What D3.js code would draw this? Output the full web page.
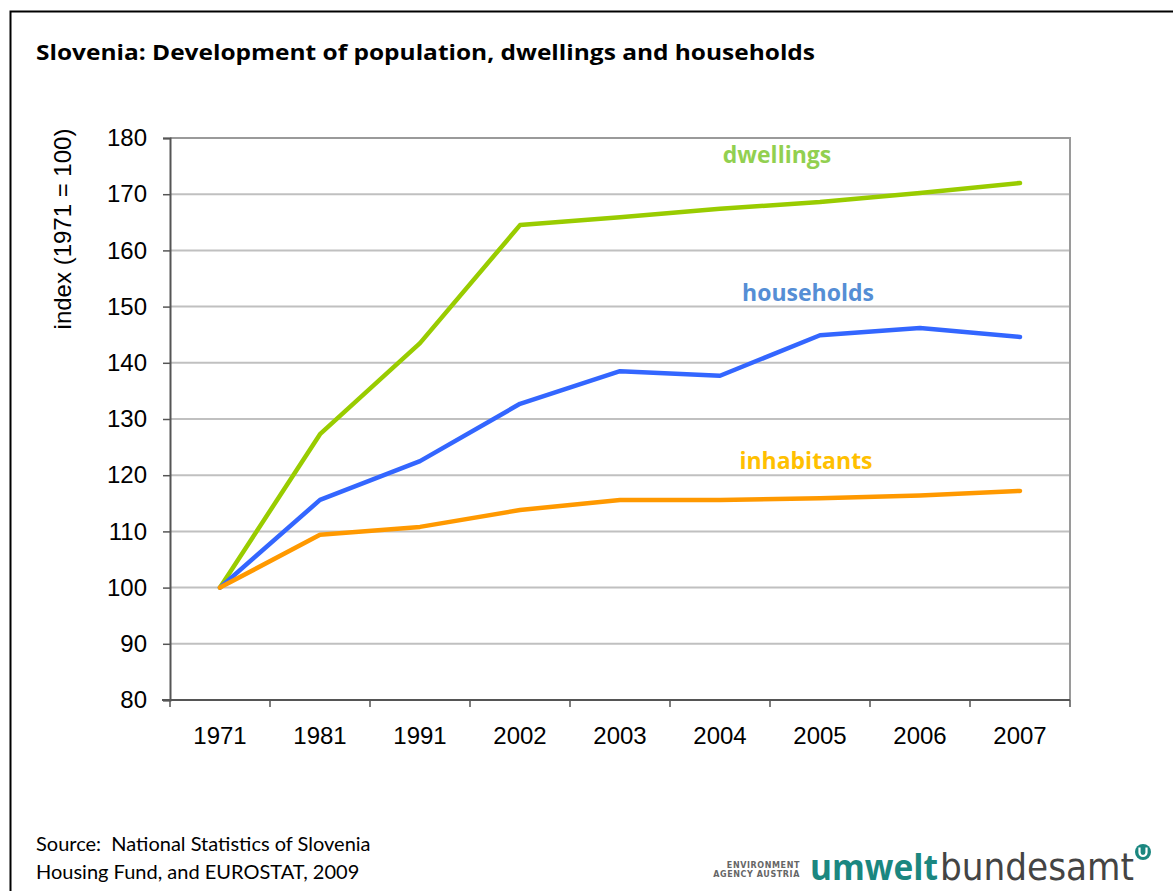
<!DOCTYPE html>
<html>
<head>
<meta charset="utf-8">
<script src="https://cdn.jsdelivr.net/npm/d3@7"></script>
<style>
  html, body { margin: 0; padding: 0; background: #fff; }
  svg { display: block; }
</style>
</head>
<body>
<svg id="chart" width="1173" height="891"></svg>
<script>
const years = ["1971", "1981", "1991", "2002", "2003", "2004", "2005", "2006", "2007"];
const dwellings = [100, 127.3, 143.5, 164.5, 165.9, 167.4, 168.6, 170.2, 172.0];
const households = [100, 115.6, 122.5, 132.7, 138.5, 137.7, 144.9, 146.2, 144.6];
const inhabitants = [100, 109.4, 110.8, 113.8, 115.6, 115.6, 115.9, 116.4, 117.2];
const yTicks = [80, 90, 100, 110, 120, 130, 140, 150, 160, 170, 180];

const seriesList = [
  { name: "dwellings", values: dwellings, color: "#99CC00", labelColor: "#92D050", labelX: 777, labelY: 163 },
  { name: "households", values: households, color: "#3366FF", labelColor: "#558ED5", labelX: 808, labelY: 301 },
  { name: "inhabitants", values: inhabitants, color: "#FF9900", labelColor: "#FFC000", labelX: 806, labelY: 469 }
];

const svg = d3.select("#chart");
const L = 170, R = 1070, T = 138, B = 700;

// outer frame
svg.append("rect").attr("x", 10.5).attr("y", 11.5).attr("width", 1200).attr("height", 1000)
  .attr("fill", "none").attr("stroke", "#000").attr("stroke-width", 2);

// title
svg.append("text").attr("x", 36).attr("y", 60)
  .attr("font-family", "'Open Sans', Lato, sans-serif").attr("font-weight", "bold")
  .attr("font-size", 21.5).attr("fill", "#000")
  .attr("textLength", 779).attr("lengthAdjust", "spacingAndGlyphs")
  .text("Slovenia: Development of population, dwellings and households");

const x = d3.scaleBand().domain(years).range([L, R]).paddingInner(0).paddingOuter(0);
const y = d3.scaleLinear().domain([80, 180]).range([B, T]);

// gridlines
svg.append("g").selectAll("line").data(yTicks.filter(d => d !== 80)).join("line")
  .attr("x1", L).attr("x2", R).attr("y1", d => y(d)).attr("y2", d => y(d))
  .attr("stroke", "#c0c0c0").attr("stroke-width", 2);

// plot border (top/right)
svg.append("path").attr("d", `M${L},${T}H${R}V${B}`).attr("fill", "none")
  .attr("stroke", "#9a9a9a").attr("stroke-width", 2);

// y axis
const yAxis = svg.append("g").attr("transform", `translate(${L},0)`)
  .call(d3.axisLeft(y).tickValues(yTicks).tickSize(7).tickPadding(16).tickFormat(d3.format("d")));
yAxis.select(".domain").attr("stroke", "#555").attr("stroke-width", 2);
yAxis.selectAll(".tick line").attr("stroke", "#555").attr("stroke-width", 1.5);
yAxis.selectAll("text").attr("font-family", "'Liberation Sans', Arial, sans-serif")
  .attr("font-size", 24).attr("fill", "#000");

// x axis
const xAxis = svg.append("g").attr("transform", `translate(0,${B})`)
  .call(d3.axisBottom(x).tickSize(0).tickPadding(27));
xAxis.select(".domain").attr("stroke", "#555").attr("stroke-width", 2)
  .attr("d", `M${L - 8},0H${R}`);
xAxis.selectAll("text").attr("font-family", "'Liberation Sans', Arial, sans-serif")
  .attr("font-size", 24).attr("fill", "#000");
// category boundary ticks
const bounds = years.map(d => x(d)).concat([R]);
svg.append("g").selectAll("line").data(bounds).join("line")
  .attr("x1", d => d).attr("x2", d => d).attr("y1", B).attr("y2", B + 7)
  .attr("stroke", "#555").attr("stroke-width", 1.5);

// y axis title
svg.append("text")
  .attr("transform", `translate(71,229) rotate(-90)`)
  .attr("text-anchor", "middle")
  .attr("font-family", "'Liberation Sans', Arial, sans-serif").attr("font-size", 24)
  .attr("fill", "#000").text("index (1971 = 100)");

// lines
const line = d3.line().x((d, i) => x(years[i]) + x.bandwidth() / 2).y(d => y(d));
seriesList.forEach(s => {
  svg.append("path").datum(s.values).attr("d", line).attr("fill", "none")
    .attr("stroke", s.color).attr("stroke-width", 4.5)
    .attr("stroke-linejoin", "round").attr("stroke-linecap", "round");
  svg.append("text").attr("x", s.labelX).attr("y", s.labelY).attr("text-anchor", "middle")
    .attr("font-family", "'Open Sans', Lato, sans-serif").attr("font-weight", "bold")
    .attr("font-size", 23).attr("fill", s.labelColor).text(s.name);
});

// source
const src = svg.append("text").attr("font-family", "Lato, 'Open Sans', sans-serif")
  .attr("font-size", 20).attr("fill", "#000");
src.append("tspan").attr("x", 36).attr("y", 851).attr("xml:space", "preserve").text("Source:  National Statistics of Slovenia");
src.append("tspan").attr("x", 36).attr("y", 879).text("Housing Fund, and EUROSTAT, 2009");

// logo
const logo = svg.append("g");
logo.append("text").attr("x", 800).attr("y", 868).attr("text-anchor", "end")
  .attr("font-family", "'DejaVu Sans', sans-serif").attr("font-size", 8).attr("font-weight", "bold")
  .attr("fill", "#666").attr("letter-spacing", 0.6).text("ENVIRONMENT");
logo.append("text").attr("x", 800).attr("y", 877).attr("text-anchor", "end")
  .attr("font-family", "'DejaVu Sans', sans-serif").attr("font-size", 8).attr("font-weight", "bold")
  .attr("fill", "#666").attr("letter-spacing", 0.6).text("AGENCY AUSTRIA");
logo.append("text").attr("x", 810).attr("y", 880).attr("font-size", 36)
  .attr("font-family", "'Open Sans', sans-serif").attr("font-weight", "bold")
  .attr("fill", "#1B8780").attr("textLength", 128).attr("lengthAdjust", "spacingAndGlyphs").text("umwelt");
logo.append("text").attr("x", 940).attr("y", 880).attr("font-size", 38)
  .attr("font-family", "'DejaVu Sans', sans-serif").attr("font-weight", "normal")
  .attr("fill", "#444").attr("textLength", 194).attr("lengthAdjust", "spacingAndGlyphs").text("bundesamt");
// logo badge (circle with a "u" shape)
logo.append("circle").attr("cx", 1143).attr("cy", 852).attr("r", 8).attr("fill", "#1B8780");
logo.append("path").attr("d", "M1139.5,847.5v5a3.5,3.5 0 0 0 7,0v-5")
  .attr("fill", "none").attr("stroke", "#fff").attr("stroke-width", 2.2);
</script>
</body>
</html>
